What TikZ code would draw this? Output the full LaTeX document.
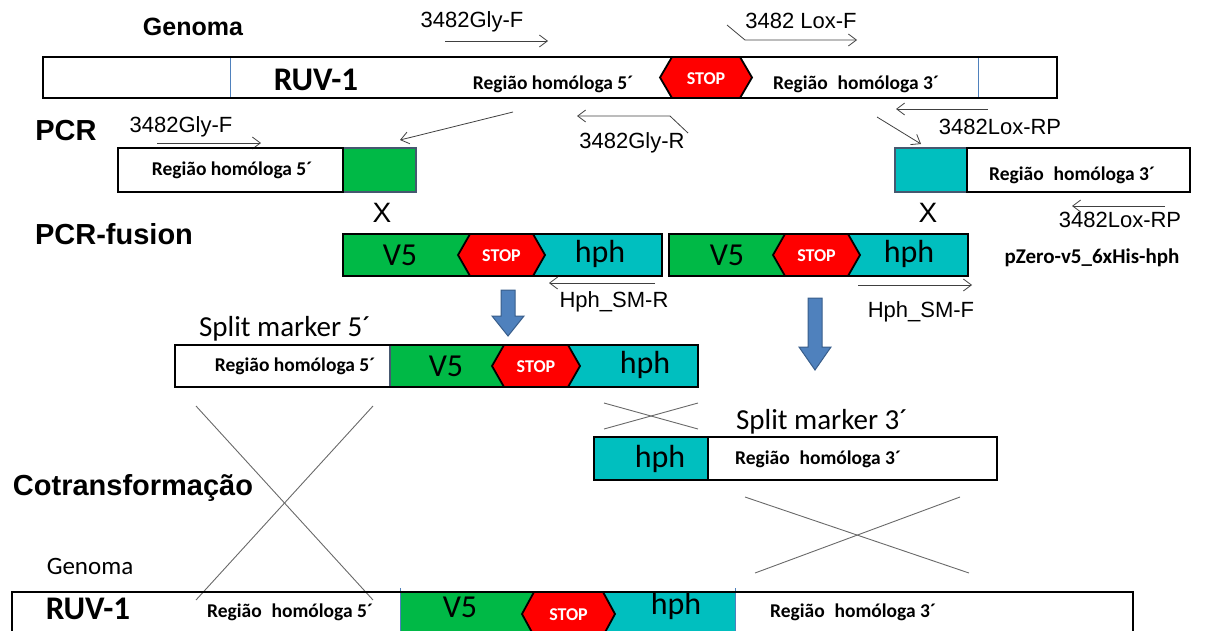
\documentclass[tikz,border=0pt]{standalone}
\usepackage{fontspec}
\setmainfont{Carlito}
\newfontfamily\arial{Liberation Sans}
\usetikzlibrary{arrows.meta}

\definecolor{vgreen}{RGB}{0,185,70}
\definecolor{hcyan}{RGB}{0,191,191}
\definecolor{sred}{RGB}{255,0,0}
\definecolor{barrow}{RGB}{79,129,189}
\definecolor{barrowd}{RGB}{56,93,138}
\definecolor{slate}{RGB}{70,88,112}
\definecolor{xgray}{RGB}{105,105,105}

\tikzset{
  outline/.style={draw=black, line width=2.6pt},
  slatebox/.style={draw=slate, line width=2.2pt},
  divider/.style={draw=barrow, line width=0.8pt},
  primer/.style={draw=black!75, line width=0.8pt, -{Straight Barb[length=8pt,width=12pt]}},
  crossline/.style={draw=xgray, line width=0.9pt},
  stopbox/.style={fill=sred, draw=black, line width=1.8pt, line join=miter},
  blockarrow/.style={fill=barrow, draw=barrowd, line width=1pt},
  head/.style={font=\arial\bfseries\fontsize{29}{29}\selectfont, inner sep=0pt},
  lbl/.style={font=\arial\fontsize{22}{22}\selectfont, inner sep=0pt},
  reg/.style={font=\bfseries\fontsize{19.5}{20}\selectfont, inner sep=0pt},
  gene/.style={font=\fontsize{32}{32}\selectfont, inner sep=0pt},
  ruv/.style={font=\bfseries\fontsize{33}{33}\selectfont, inner sep=0pt},
  split/.style={font=\fontsize{29}{29}\selectfont, inner sep=0pt},
  stoptxt/.style={font=\bfseries\fontsize{18}{18}\selectfont, text=white, inner sep=0pt},
}

% STOP hexagon: name, left tip, right tip, top, bottom
\newcommand{\stophex}[5]{%
  \draw[stopbox] ({#2},{(#4+#5)/2}) -- ({#2+12},{#4}) -- ({#3-12},{#4})
    -- ({#3},{(#4+#5)/2}) -- ({#3-12},{#5}) -- ({#2+12},{#5}) -- cycle;
  \node[stoptxt] (#1) at ({(#2+#3)/2},{(#4+#5)/2+1}) {STOP};}

% blue block arrow: centre x, top, start of head, tip
\newcommand{\blockdown}[4]{%
  \draw[blockarrow] ({#1-7},{#2}) -- ({#1+7},{#2}) -- ({#1+7},{#3}) -- ({#1+16},{#3})
    -- ({#1},{#4}) -- ({#1-16},{#3}) -- ({#1-7},{#3}) -- cycle;}

\begin{document}
\begin{tikzpicture}[x=1pt, y=-1pt]
\useasboundingbox (0,0) rectangle (1215,630);
\clip (0,0) rectangle (1215,630);

% genome on top
\node[head, font=\arial\bfseries\fontsize{25}{25}\selectfont] (genoma) at (193,27) {Genoma};
\node[lbl] (glyf) at (472,22) {3482Gly-F};
\coordinate (glyfa) at (445,41);
\coordinate (glyfb) at (548,41);
\draw[primer] (glyfa) -- (glyfb);
\node[lbl] (loxf) at (801,21) {3482 Lox-F};
\coordinate (loxfa) at (727,25);
\coordinate (loxfb) at (745,40);
\coordinate (loxfc) at (857,40);
\draw[primer] (loxfa) -- (loxfb) -- (loxfc);

\draw[divider] (230,57) -- (230,98);
\draw[divider] (978,57) -- (978,98);
\stophex{stoptop}{660}{752}{57}{98}
\draw[outline] (43,57) rectangle (1057,98);
\node[ruv] (ruvtop) at (316,80) {RUV-1};
\node[reg] (h5top) at (553,84) {Região homóloga 5´};
\node[reg] (h3top) at (856,84) {Região\hspace{0.5em}homóloga 3´};

% primers below the genome
\coordinate (loxrpa) at (988,109);
\coordinate (loxrpb) at (896,109);
\draw[primer] (loxrpa) -- (loxrpb);
\node[lbl] (loxrp) at (1000,127) {3482Lox-RP};
\coordinate (glyra) at (688,133);
\coordinate (glyrb) at (670,116);
\coordinate (glyrc) at (577,116);
\draw[primer] (glyra) -- (glyrb) -- (glyrc);
\node[lbl] (glyr) at (632,143) {3482Gly-R};

% PCR
\node[head] (pcr) at (66,131) {PCR};
\node[lbl] (glyf2) at (181,127) {3482Gly-F};
\coordinate (glyf2a) at (157,143);
\coordinate (glyf2b) at (261,143);
\draw[primer] (glyf2a) -- (glyf2b);

\fill[vgreen] (343,148) rectangle (416,192);
\draw[slatebox] (343,148) rectangle (416,192);
\draw[outline] (118,148) rectangle (343,192);
\node[reg] (h5pcr) at (232,170) {Região homóloga 5´};
\coordinate (pcrl) at (400,140);

\fill[hcyan] (895,148) rectangle (967,192);
\draw[slatebox] (895,148) rectangle (967,192);
\draw[outline] (967,148) rectangle (1190,192);
\node[reg] (h3pcr) at (1072,175) {Região\hspace{0.5em}homóloga 3´};
\coordinate (pcrr) at (921,144);

\coordinate (topl) at (513,112);
\coordinate (topr) at (877,117);
\draw[primer] (topl) -- (pcrl);
\draw[primer] (topr) -- (pcrr);

\coordinate (loxrp2a) at (1165,206);
\coordinate (loxrp2b) at (1072,206);
\draw[primer] (loxrp2a) -- (loxrp2b);
\node[lbl] (loxrp2) at (1120,220) {3482Lox-RP};

\node[lbl, font=\arial\fontsize{28}{28}\selectfont] (xl) at (382,213) {X};
\node[lbl, font=\arial\fontsize{28}{28}\selectfont] (xr) at (928,213) {X};

% PCR-fusion
\node[head] (fusion) at (114,234) {PCR-fusion};
\fill[vgreen] (343,234) rectangle (500,276);
\fill[hcyan] (500,234) rectangle (662,276);
\stophex{stop1}{458}{545}{234}{276}
\draw[outline] (343,234) rectangle (662,276);
\node[gene] (v51) at (400,255) {V5};
\node[gene] (hph1) at (600,254) {hph};

\fill[vgreen] (669,234) rectangle (815,276);
\fill[hcyan] (815,234) rectangle (968,276);
\stophex{stop2}{773}{860}{234}{276}
\draw[outline] (669,234) rectangle (968,276);
\node[gene] (v52) at (727,255) {V5};
\node[gene] (hph2) at (909,254) {hph};
\node[reg, font=\bfseries\fontsize{21}{21}\selectfont] (pzero) at (1092,258) {pZero-v5\_6xHis-hph};

\coordinate (smra) at (655,283);
\coordinate (smrb) at (549,283);
\draw[primer] (smra) -- (smrb);
\node[lbl] (smr) at (614,302) {Hph\_SM-R};
\coordinate (smfa) at (858,285);
\coordinate (smfb) at (972,285);
\draw[primer] (smfa) -- (smfb);
\node[lbl] (smf) at (921,312) {Hph\_SM-F};

\blockdown{508}{290}{316}{336}
\blockdown{815}{298}{347}{370}

% split marker 5'
\node[split] (sm5) at (285,329) {Split marker 5´};
\fill[vgreen] (390,345) rectangle (540,387);
\fill[hcyan] (540,345) rectangle (698,387);
\stophex{stop3}{492}{580}{345}{387}
\draw[divider, draw=slate, line width=1.2pt] (390,345) -- (390,387);
\draw[outline] (175,345) rectangle (698,387);
\node[reg] (h5sm) at (295,366) {Região homóloga 5´};
\node[gene] (v53) at (446,366) {V5};
\node[gene] (hph3) at (645,365) {hph};

\draw[crossline] (604,403) -- (698,429);
\draw[crossline] (604,429) -- (698,403);

% split marker 3'
\node[split] (sm3) at (822,422) {Split marker 3´};
\fill[hcyan] (594,437) rectangle (708,480);
\draw[outline] (708,437) -- (708,480);
\draw[outline] (594,437) rectangle (997,480);
\node[gene] (hph4) at (660,459) {hph};
\node[reg] (h3sm) at (818,459) {Região\hspace{0.5em}homóloga 3´};

% cotransformation
\node[head] (cotra) at (133,488) {Cotransformação};
\draw[crossline] (196,406) -- (373,600);
\draw[crossline] (373,406) -- (196,600);
\draw[crossline] (745,497) -- (969,573);
\draw[crossline] (960,497) -- (755,573);

% genome after recombination
\node[gene, font=\fontsize{25}{25}\selectfont] (genoma2) at (90,566) {Genoma};
\fill[vgreen] (400,592) rectangle (570,645);
\fill[hcyan] (570,592) rectangle (735,645);
\stophex{stop4}{522}{615}{592}{636}
\draw[divider] (400,588) -- (400,645);
\draw[divider] (735,588) -- (735,645);
\draw[outline] (12,592) rectangle (1133,645);
\node[ruv] (ruvbot) at (88,609) {RUV-1};
\node[reg] (h5bot) at (290,612) {Região\hspace{0.5em}homóloga 5´};
\node[gene] (v5bot) at (460,607) {V5};
\node[gene] (hphbot) at (676,606) {hph};
\node[reg] (h3bot) at (853,612) {Região\hspace{0.5em}homóloga 3´};
\end{tikzpicture}
\end{document}
